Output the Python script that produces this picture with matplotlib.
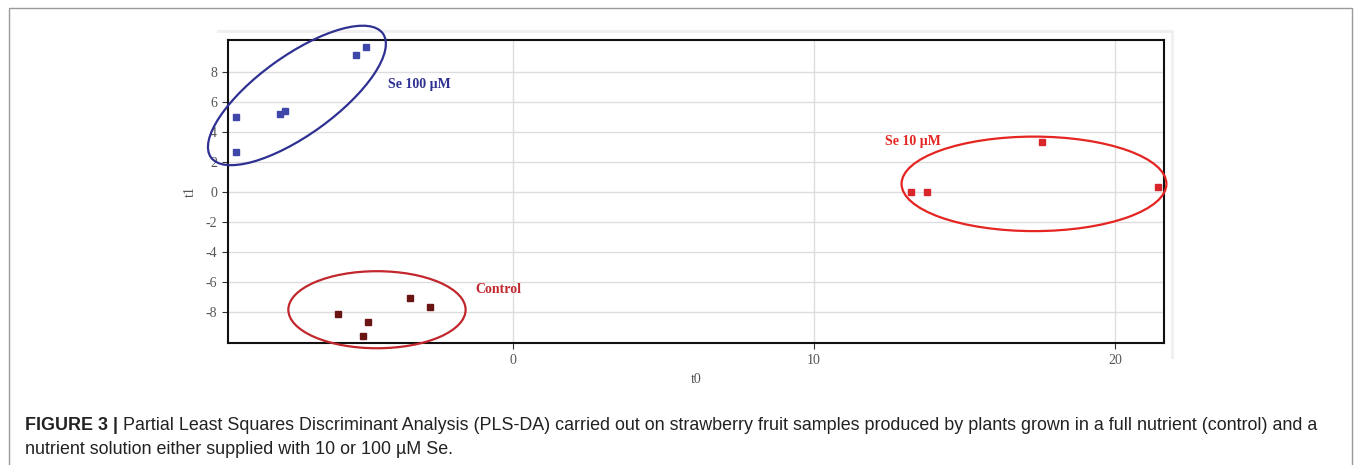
import matplotlib
matplotlib.use("Agg")
import matplotlib.pyplot as plt
from matplotlib.patches import Ellipse, Rectangle
from matplotlib.lines import Line2D
from matplotlib.transforms import Affine2D

# ---- data ----
se100_t0 = [-9.19, -9.21, -7.74, -7.59, -5.22, -4.87]
se100_t1 = [5.03, 2.68, 5.21, 5.43, 9.13, 9.70]

control_t0 = [-5.81, -4.83, -4.99, -3.43, -2.77]
control_t1 = [-8.15, -8.68, -9.61, -7.06, -7.64]

se10_t0 = [13.22, 13.75, 17.57, 21.42]
se10_t1 = [0.03, -0.02, 3.35, 0.31]

x_ticks = [0, 10, 20]
y_ticks = [-8, -6, -4, -2, 0, 2, 4, 6, 8]

group_labels = ["Se 100 \u00b5M", "Control", "Se 10 \u00b5M"]

# ellipses: centre (t0, t1), full width in t0 units, full height in t0-equivalent units, angle (deg)
ell_se100 = dict(center=(-7.18, 6.45), width=7.04, height=2.62, angle=35.8)
ell_control = dict(center=(-4.52, -7.85), width=5.89, height=2.56, angle=0)
ell_se10 = dict(center=(17.31, 0.55), width=8.80, height=3.14, angle=0)

W, H = 1360, 465
fig = plt.figure(figsize=(W / 100, H / 100), dpi=100)
ax = fig.add_axes([228 / W, 1 - 343 / H, (1164 - 228) / W, (343 - 40) / H])

ax.set_xlim(-9.47, 21.63)
ax.set_ylim(-10.07, 10.15)
y_per_x = (20.22 / 303) / (31.10 / 936)  # data-units ratio so ellipses look right

serif = "Liberation Serif"
ax.set_xticks(x_ticks)
ax.set_yticks(y_ticks)
ax.set_xticklabels([str(v) for v in x_ticks], family=serif, fontsize=10, color="#555555")
ax.set_yticklabels([str(v) for v in y_ticks], family=serif, fontsize=10, color="#555555")
ax.tick_params(direction="out", length=4, width=0.8, color="#333333", pad=4)
ax.grid(True, color="#dddddd", linewidth=1.0)
ax.set_axisbelow(True)
for s in ax.spines.values():
    s.set_color("#111111")
    s.set_linewidth(1.5)

ax.set_xlabel("t0", family=serif, fontsize=10, color="#555555", labelpad=4)
ax.set_ylabel("t1", family=serif, fontsize=10, color="#555555", labelpad=6)

ax.plot(se100_t0, se100_t1, "s", color="#3f48a8", markersize=4.5, clip_on=False, zorder=3)
ax.plot(control_t0, control_t1, "s", color="#6b1414", markersize=4.5, clip_on=False, zorder=3)
ax.plot(se10_t0, se10_t1, "s", color="#d9262b", markersize=4.5, clip_on=False, zorder=3)


def add_ellipse(spec, color):
    cx, cy = spec["center"]
    e = Ellipse((0, 0), spec["width"], spec["height"], angle=spec["angle"],
                fill=False, edgecolor=color, linewidth=1.6, clip_on=False, zorder=4)
    e.set_transform(Affine2D().scale(1, y_per_x).translate(cx, cy) + ax.transData)
    ax.add_patch(e)


add_ellipse(ell_se100, "#2e3192")
add_ellipse(ell_control, "#c1272d")
add_ellipse(ell_se10, "#e52521")

ax.text(-4.15, 7.2, group_labels[0], family=serif, fontsize=10, fontweight="bold",
        color="#2e3192", ha="left", va="center")
ax.text(-1.25, -6.5, group_labels[1], family=serif, fontsize=10, fontweight="bold",
        color="#c1272d", ha="left", va="center")
ax.text(12.35, 3.4, group_labels[2], family=serif, fontsize=10, fontweight="bold",
        color="#e52521", ha="left", va="center")

# faint plot-area shadow (top and right) and outer page border
fig.lines.append(Line2D([218 / W, 1172 / W, 1172 / W],
                        [1 - 31.5 / H, 1 - 31.5 / H, 1 - 357 / H],
                        transform=fig.transFigure, color="#f0f0f0", linewidth=2.2, zorder=-1))
fig.patches.append(Rectangle((8.5 / W, -0.05), (1352 - 8.5) / W, 1.05 - 8.5 / H,
                             transform=fig.transFigure, fill=False, edgecolor="#9a9a9a",
                             linewidth=1.0))

# caption
cap_bold = "FIGURE 3 | "
cap_rest1 = ("Partial Least Squares Discriminant Analysis (PLS-DA) carried out on strawberry fruit "
             "samples produced by plants grown in a full nutrient (control) and a")
cap_line2 = "nutrient solution either supplied with 10 or 100 \u00b5M Se."
sans = "Liberation Sans"
cap_size = 12.9
t1 = fig.text(25 / W, 1 - 425 / H, cap_bold, family=sans, fontsize=cap_size, fontweight="bold",
              color="#222222", va="center", ha="left")
fig.canvas.draw()
bb = t1.get_window_extent(renderer=fig.canvas.get_renderer())
fig.text(bb.x1 / W, 1 - 425 / H, cap_rest1, family=sans, fontsize=cap_size, color="#222222",
         va="center", ha="left")
fig.text(25 / W, 1 - 449 / H, cap_line2, family=sans, fontsize=cap_size, color="#222222",
         va="center", ha="left")

fig.savefig("out.png", dpi=100)
